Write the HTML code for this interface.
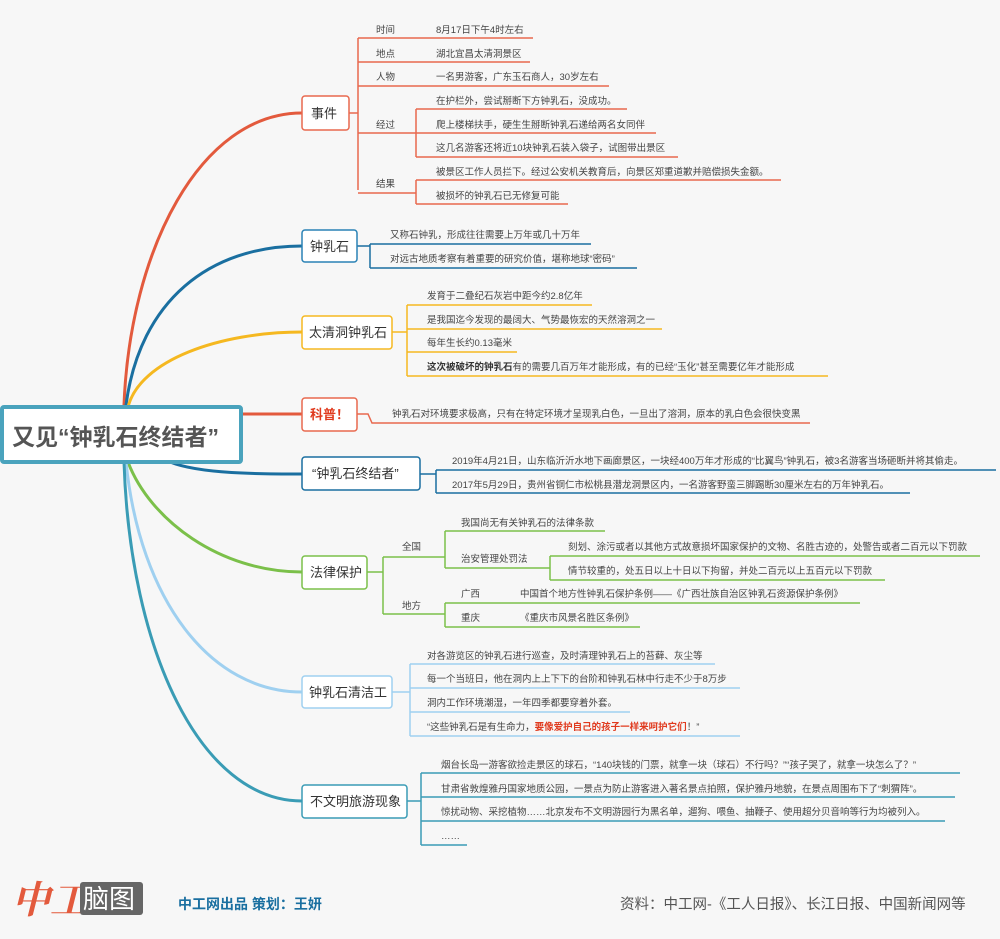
<!DOCTYPE html>
<html><head><meta charset="utf-8"><style>
html,body{margin:0;padding:0;background:#f7f7f7}
svg{display:block}
text{font-family:"Liberation Sans","Noto Sans CJK SC",sans-serif;fill:#444}
.t{font-size:9.5px}
.n{font-size:13px;fill:#333}
</style></head><body>
<svg width="1000" height="939" viewBox="0 0 1000 939" xmlns="http://www.w3.org/2000/svg">
<rect width="1000" height="939" fill="#f7f7f7"/>
<!-- main curves -->
<g fill="none" stroke-linecap="round">
<path d="M124 405 C 130 250, 200 113, 302 113" stroke="#e35a3d" stroke-width="3"/>
<path d="M126 405 C 140 300, 210 246, 302 246" stroke="#1a6fa0" stroke-width="3"/>
<path d="M128 407 C 140 360, 220 332, 302 332" stroke="#f5b820" stroke-width="3"/>
<path d="M242 414 L 302 414" stroke="#e35a3d" stroke-width="3"/>
<path d="M170 462 C 200 474, 260 474, 302 474" stroke="#1a6fa0" stroke-width="3"/>
<path d="M128 462 C 150 520, 220 572, 302 572" stroke="#7bc04a" stroke-width="3"/>
<path d="M126 462 C 140 600, 210 692, 302 692" stroke="#9fd0f0" stroke-width="3"/>
<path d="M124 462 C 130 650, 200 801, 302 801" stroke="#3a9cb5" stroke-width="3"/>
</g>
<!-- root -->
<rect x="2" y="407" width="239" height="55" fill="#fff" stroke="#4aa3bd" stroke-width="4" rx="2"/>
<text x="12" y="445" style="font-size:23px;fill:#555;font-weight:bold">又见“钟乳石终结者”</text>

<!-- 事件 -->
<g fill="none" stroke="#e8694f" stroke-width="1.5">
<path d="M349 113 H358 M358 38 V190"/>
<path d="M358 38 H533 M358 62 H530 M358 86 H609 M358 133 H416 M358 193 H416"/>
<path d="M416 109 V157 M416 109 H627 M416 133 H656 M416 157 H678"/>
<path d="M416 180 V204 M416 180 H781 M416 204 H568"/>
</g>
<rect x="302" y="96" width="47" height="34" rx="3" fill="#fff" stroke="#e8694f" stroke-width="1.5"/>
<text x="311" y="118" class="n">事件</text>
<text class="t" x="376" y="33">时间</text><text class="t" x="436" y="33">8月17日下午4时左右</text>
<text class="t" x="376" y="57">地点</text><text class="t" x="436" y="57">湖北宜昌太清洞景区</text>
<text class="t" x="376" y="80">人物</text><text class="t" x="436" y="80">一名男游客，广东玉石商人，30岁左右</text>
<text class="t" x="376" y="128">经过</text>
<text class="t" x="436" y="104">在护栏外，尝试掰断下方钟乳石，没成功。</text>
<text class="t" x="436" y="128">爬上楼梯扶手，硬生生掰断钟乳石递给两名女同伴</text>
<text class="t" x="436" y="151">这几名游客还将近10块钟乳石装入袋子，试图带出景区</text>
<text class="t" x="376" y="187">结果</text>
<text class="t" x="436" y="175">被景区工作人员拦下。经过公安机关教育后，向景区郑重道歉并赔偿损失金额。</text>
<text class="t" x="436" y="199">被损坏的钟乳石已无修复可能</text>

<!-- 钟乳石 -->
<g fill="none" stroke="#1a6fa0" stroke-width="1.5">
<path d="M357 246 H370 M370 244 V268 M370 244 H591 M370 268 H637"/>
</g>
<rect x="302" y="230" width="55" height="32" rx="3" fill="#fff" stroke="#2a82b5" stroke-width="1.5"/>
<text x="310" y="251" class="n">钟乳石</text>
<text class="t" x="390" y="238">又称石钟乳，形成往往需要上万年或几十万年</text>
<text class="t" x="390" y="262">对远古地质考察有着重要的研究价值，堪称地球“密码”</text>

<!-- 太清洞 -->
<g fill="none" stroke="#f5b820" stroke-width="1.5">
<path d="M392 332 H407 M407 305 V376 M407 305 H592 M407 329 H662 M407 352 H517 M407 376 H828"/>
</g>
<rect x="302" y="316" width="90" height="33" rx="3" fill="#fff" stroke="#f5b820" stroke-width="1.5"/>
<text x="309" y="337" class="n">太清洞钟乳石</text>
<text class="t" x="427" y="299">发育于二叠纪石灰岩中距今约2.8亿年</text>
<text class="t" x="427" y="323">是我国迄今发现的最阔大、气势最恢宏的天然溶洞之一</text>
<text class="t" x="427" y="346">每年生长约0.13毫米</text>
<text class="t" x="427" y="370"><tspan style="font-weight:bold;fill:#333">这次被破坏的钟乳石</tspan>有的需要几百万年才能形成，有的已经“玉化”甚至需要亿年才能形成</text>

<!-- 科普 -->
<path d="M357 414 H368 L372 423 H810" fill="none" stroke="#e8694f" stroke-width="1.5"/>
<rect x="302" y="398" width="55" height="33" rx="3" fill="#fff" stroke="#e8694f" stroke-width="1.5"/>
<text x="310" y="419" class="n" style="fill:#e03a1e;font-weight:bold">科普！</text>
<text class="t" x="392" y="417">钟乳石对环境要求极高，只有在特定环境才呈现乳白色，一旦出了溶洞，原本的乳白色会很快变黑</text>

<!-- 终结者 -->
<g fill="none" stroke="#1a6fa0" stroke-width="1.5">
<path d="M420 474 H436 M436 470 V493 M436 470 H996 M436 493 H910"/>
</g>
<rect x="302" y="457" width="118" height="33" rx="3" fill="#fff" stroke="#1a6fa0" stroke-width="1.5"/>
<text x="312" y="478" class="n">“钟乳石终结者”</text>
<text class="t" x="452" y="464">2019年4月21日，山东临沂沂水地下画廊景区，一块经400万年才形成的“比翼鸟”钟乳石，被3名游客当场砸断并将其偷走。</text>
<text class="t" x="452" y="488">2017年5月29日，贵州省铜仁市松桃县潜龙洞景区内，一名游客野蛮三脚踢断30厘米左右的万年钟乳石。</text>

<!-- 法律保护 -->
<g fill="none" stroke="#7bc04a" stroke-width="1.5">
<path d="M367 572 H383 M383 557 V614 M383 557 H445 M383 614 H445"/>
<path d="M445 531 V568 M445 531 H605 M445 568 H550"/>
<path d="M550 556 V580 M550 556 H980 M550 580 H885"/>
<path d="M445 603 V627 M445 603 H860 M445 627 H640"/>
</g>
<rect x="302" y="556" width="65" height="33" rx="3" fill="#fff" stroke="#7bc04a" stroke-width="1.5"/>
<text x="310" y="577" class="n">法律保护</text>
<text class="t" x="402" y="550">全国</text>
<text class="t" x="402" y="609">地方</text>
<text class="t" x="461" y="526">我国尚无有关钟乳石的法律条款</text>
<text class="t" x="461" y="562">治安管理处罚法</text>
<text class="t" x="568" y="550">刻划、涂污或者以其他方式故意损坏国家保护的文物、名胜古迹的，处警告或者二百元以下罚款</text>
<text class="t" x="568" y="574">情节较重的，处五日以上十日以下拘留，并处二百元以上五百元以下罚款</text>
<text class="t" x="461" y="597">广西</text><text class="t" x="520" y="597">中国首个地方性钟乳石保护条例——《广西壮族自治区钟乳石资源保护条例》</text>
<text class="t" x="461" y="621">重庆</text><text class="t" x="520" y="621">《重庆市风景名胜区条例》</text>

<!-- 清洁工 -->
<g fill="none" stroke="#9fd0f0" stroke-width="1.5">
<path d="M392 692 H410 M410 664 V736 M410 664 H715 M410 688 H740 M410 712 H630 M410 736 H740"/>
</g>
<rect x="302" y="676" width="90" height="32" rx="3" fill="#fff" stroke="#9fd0f0" stroke-width="1.5"/>
<text x="309" y="697" class="n">钟乳石清洁工</text>
<text class="t" x="427" y="659">对各游览区的钟乳石进行巡查，及时清理钟乳石上的苔藓、灰尘等</text>
<text class="t" x="427" y="682">每一个当班日，他在洞内上上下下的台阶和钟乳石林中行走不少于8万步</text>
<text class="t" x="427" y="706">洞内工作环境潮湿，一年四季都要穿着外套。</text>
<text class="t" x="427" y="730">“这些钟乳石是有生命力，<tspan style="fill:#e03a1e;font-weight:bold">要像爱护自己的孩子一样来呵护它们</tspan>！”</text>

<!-- 不文明 -->
<g fill="none" stroke="#3a9cb5" stroke-width="1.5">
<path d="M407 801 H421 M421 773 V845 M421 773 H960 M421 797 H955 M421 821 H945 M421 845 H467"/>
</g>
<rect x="302" y="785" width="105" height="33" rx="3" fill="#fff" stroke="#3a9cb5" stroke-width="1.5"/>
<text x="310" y="806" class="n">不文明旅游现象</text>
<text class="t" x="441" y="768">烟台长岛一游客欲捡走景区的球石，“140块钱的门票，就拿一块（球石）不行吗？”“孩子哭了，就拿一块怎么了？”</text>
<text class="t" x="441" y="792">甘肃省敦煌雅丹国家地质公园，一景点为防止游客进入著名景点拍照，保护雅丹地貌，在景点周围布下了“刺猬阵”。</text>
<text class="t" x="441" y="815">惊扰动物、采挖植物……北京发布不文明游园行为黑名单，遛狗、喂鱼、抽鞭子、使用超分贝音响等行为均被列入。</text>
<text class="t" x="441" y="839">……</text>

<!-- footer -->
<text x="12" y="913" style="font-size:38px;fill:#e35a3d;font-weight:bold;font-style:italic;font-family:'Noto Serif CJK SC','Liberation Serif',serif">中工</text>
<rect x="80" y="882" width="63" height="33" rx="3" fill="#666"/>
<text x="83" y="908" style="font-size:26px;fill:#fff">脑图</text>
<text x="178" y="909" style="font-size:14px;fill:#1a6fa0;font-weight:bold">中工网出品  策划：王妍</text>
<text x="620" y="909" style="font-size:14.5px;fill:#555">资料：中工网-《工人日报》、长江日报、中国新闻网等</text>
</svg>
</body></html>
